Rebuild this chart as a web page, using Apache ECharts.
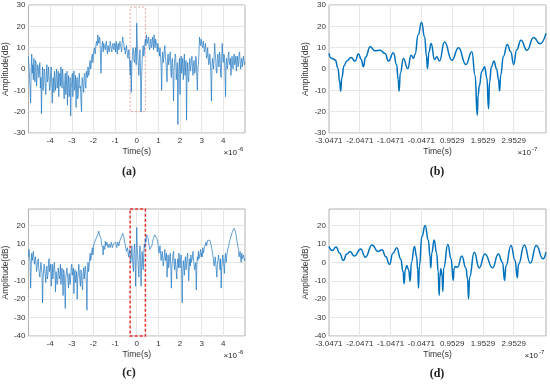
<!DOCTYPE html>
<html><head><meta charset="utf-8">
<script src="https://cdn.jsdelivr.net/npm/echarts@6/dist/echarts.min.js"></script>
<style>html,body{margin:0;padding:0;background:#fff}#c{width:550px;height:385px}</style>
</head><body><div id="c"></div>
<script>
// ---- data ----
const wideStart = -5, wideStep = 0.025; // time samples (x1e-6 s)
const aValues = [
 6,1,-4,-9,-16,0,7,-2,2,-5,5,-1,-6,4,3,-8,-3,2,1,-4,
 -2,3,-9,-4,-21,-6,1,-10,-7,0,-1,-8,-12,-3,2,-6,-5,1,-3,-10,
 -8,-2,1,-7,-16,-5,-4,-11,-1,-6,-10,-3,0,-9,-6,-1,-13,-4,-2,-8,
 1,-5,-9,0,-4,-10,-14,-6,-2,-12,-8,-1,-17,-7,-3,-13,-11,-4,-22,-9,
 -6,-2,-13,-5,-1,-10,-9,-3,-18,-7,-4,-14,-12,-5,-2,-9,-8,-15,-20,-4,
 -5,-9,-11,-3,-2,-7,-9,-1,-3,-4,1,-3,-2,3,4,0,2,6,7,3,
 6,9,10,7,9,12,13,11,16,14,12,15,14,6,-2,9,11,13,8,12,
 12,10,9,12,13,9,7,11,11,8,10,13,13,9,8,11,12,10,9,12,
 11,8,13,10,7,11,12,9,9,13,11,10,8,12,15,13,12,9,10,7,
 7,11,9,6,5,9,8,2,-3,4,-11,2,6,10,9,4,3,8,10,2,
 21.5,12,6,1,-3,5,9,-2,-20,-4,4,8,11,6,8,12,14,11,16,13,
 12,14,15,10,9,13,14,10,11,15,13,9,16,12,10,14,14,11,8,12,
 12,8,6,10,10,2,-10,4,8,3,5,9,11,6,3,-1,-6,5,7,2,
 2,6,8,-1,-4,4,5,-3,-15,0,3,7,6,-5,-2,3,-26,-4,1,5,
 -12,0,6,-2,2,5,-5,1,7,-3,-1,4,-24,-2,3,-4,-6,2,5,-1,
 1,4,6,0,-3,3,4,-2,-1,6,5,-3,-10,1,2,8,15,12,11,14,
 14,11,10,13,13,8,9,12,12,5,6,10,10,2,3,7,4,-3,-15,1,
 5,2,0,6,12,7,4,-1,-2,5,7,2,1,8,6,-3,-4,6,12,5,
 3,7,6,-2,-13,2,5,0,1,6,8,3,2,5,-3,1,6,2,0,5,
 7,2,3,6,-1,4,6,1,2,7,8,3,0,4,5,1,1,6,4,2,3
];
const cValues = [
 3,7,6,0,-14,-3,5,1,1,6,6,-1,-2,3,4,-5,-6,0,2,-3,
 -3,-8,-9,0,1,-6,-22,-9,-4,-1,0,-7,-11,-4,-2,-9,-7,-1,2,-5,
 -5,-1,-13,-6,-1,-9,-8,-2,0,-7,-16,-5,-4,-12,-10,-3,-2,-9,-7,-1,
 -12,-6,-3,-10,-18,-4,-6,-13,-25,-8,-9,-3,-2,-10,-14,-6,-5,-12,-11,-3,
 -1,-7,-8,-3,-17,-6,-4,-11,-12,-5,-20,-9,-6,-1,-2,-10,-13,-4,-7,-12,
 -15,-6,-3,-9,-10,-2,-5,-12,-26,-4,0,-5,-2,2,5,1,3,6,8,4,
 7,10,11,9,10,13,14,12,15,16,17,15,16,14,13,10,11,8,4,9,
 9,7,11.5,9,8,11,10,8,7.5,10,11,8,9,11,10.5,8,8,10,11,9,
 9,11,10,8,8.5,11,11,9,9,12,12,13,14,15,15.8,15,14,12,11,9,
 8,6,5,8,7,3,4,7,6,0,3,9,8,-2,-5,6,10,2,-13,5,
 19,8,2,-3,-8,5,9,1,-13,-2,6,0,-4,5,10,8,13,11,15,14,
 14,13,11,9,7,8,6,8,9,11,12,13,14,15,15,14,14,13,12,11,
 10,5,6,9,8,1,2,6,5,-2,-3,4,7,1,0,5,-8,-1,4,-3,
 -2,3,5,-3,-14,-2,1,4,6,-1,-4,2,3,-5,-9,0,2,-3,5,1,
 -3,1,4,-6,-22,-5,1,-3,-7,0,3,-4,-2,3,5,-1,-10,-3,2,-2,
 4,0,-1,3,6,1,2,-4,-5,0,-15,-2,3,1,6,2,1,5,7,3,
 5,3,8,5,6,8,9,7,11,9,10,12,12,13,13,12,12,10,9,7,
 6,3,2,-2,-3,3,4,-4,-8,-1,1,4,5,-1,-4,2,-14,-3,0,4,
 3,-2,-6,2,5,0,1,5,7,6,9,11,12,13,14,15,16,17,17.5,18,
 18.5,18,17,16,14,12,10,9,7,3,4,6,2,0,5,2,1,4,3,1,2
];
const bTimes = [-3.047,-2.98,-2.92,-2.84,-2.76,-2.70,-2.668,-2.63,-2.56,-2.47,-2.33,-2.20,-2.09,-2.00,-1.93,-1.86,-1.71,-1.55,-1.39,-1.225,-1.117,-0.954,-0.85,-0.80,-0.77,-0.73,-0.63,-0.488,-0.38,-0.30,-0.25,-0.15,-0.04,0.06,0.12,0.152,0.20,0.272,0.38,0.456,0.543,0.706,0.944,1.161,1.40,1.595,1.70,1.769,1.80,1.834,1.92,2.007,2.08,2.137,2.17,2.23,2.311,2.40,2.46,2.495,2.53,2.62,2.745,2.86,2.951,3.05,3.19,3.385,3.601,3.808,4.003];
const bValues = [7.3,5.2,4.8,4.2,0.5,-6,-10.4,-4,1.5,3.8,5.4,3.7,7.0,4.5,1.0,5.5,10.4,8.5,8.8,7.3,3.7,7.6,2,-5,-10.4,-2,4.9,0.2,6.5,5.0,7,16,21.9,15,6,0.2,8,12,4.5,5.7,3.8,12.6,4.1,10,2.1,8.1,-3,-21.7,-12,-8,-1,1.0,-4,-18.6,-6,1,3.7,0,-5,-10.3,-3,6,11.5,8,2.1,9,13.5,8.8,14.8,11.8,16.7];
const dTimes = [-3.047,-2.939,-2.819,-2.70,-2.581,-2.47,-2.364,-2.223,-2.017,-1.865,-1.648,-1.453,-1.323,-1.20,-1.084,-0.97,-0.845,-0.72,-0.64,-0.607,-0.57,-0.520,-0.46,-0.411,-0.37,-0.271,-0.20,-0.165,-0.140,-0.11,-0.03,0.077,0.18,0.235,0.261,0.29,0.370,0.45,0.50,0.532,0.555,0.587,0.625,0.652,0.68,0.814,0.92,0.988,1.02,1.064,1.129,1.270,1.40,1.455,1.487,1.52,1.671,1.834,2.018,2.268,2.452,2.59,2.658,2.70,2.864,3.00,3.070,3.11,3.298,3.493,3.688,3.905,4.003];
const dValues = [8.6,6.4,8.3,5,1.0,4.5,5.9,3.4,7.3,2.8,9.5,5.9,6.8,3,-1.1,5,7.9,2,-5,-11.6,-4,-1.7,-4,-10.2,0,8.6,3,-4,-14,-2,14,20,12,3,-3,5,12.2,5,-5,-18,-8,-3.5,-7,-15.8,-3,9.7,2,-9.8,-3,-2.2,-2.6,3.4,-3,-9,-19.8,-8,5.5,-3,4.6,-3,4.6,0,-9.8,-2,9.2,1,-8.4,-1,9.5,-0.4,9.2,1.9,5.5];
const wideTicks = [-4,-3,-2,-1,0,1,2,3,4];
const zoomTicks = [-3.0471,-2.0471,-1.0471,-0.0471,0.9529,1.9529,2.9529];
const yTicksTop = [-30,-20,-10,0,10,20,30];
const yTicksBottom = [-40,-30,-20,-10,0,10,20];
const boxA = [-0.3047, 0.4, -20, 29];
const boxC = [-0.3047, 0.4, -40, 29];

// ---- build ----
const wide = vals => vals.map((v,i)=>[wideStart + i*wideStep, v]);
const pairs = (t,v) => t.map((x,i)=>[x, v[i]]);
const FONT = 'Liberation Sans';
const txtCol = '#333';
const gridCol = '#e6e6e6';

const grids = [
 {left:27, top:5, width:218, height:128},
 {left:329, top:5, width:217, height:128},
 {left:27, top:209, width:218, height:127},
 {left:329, top:209, width:217, height:127}
].map(g=>Object.assign(g,{show:true, borderColor:'#b0b0b0', borderWidth:1, backgroundColor:'#fff'}));

function xAx(idx, min, max, ticks, dec){
 return {type:'value', gridIndex:idx, min:min, max:max,
  axisLine:{show:false},
  axisTick:{show:false, customValues:ticks},
  axisLabel:{customValues:ticks, interval:0, formatter:v=>dec?v.toFixed(4):String(v), fontSize:8, color:txtCol, margin:4, fontFamily:FONT},
  splitLine:{show:false},
  name:'Time(s)', nameLocation:'middle', nameGap:14,
  nameTextStyle:{fontSize:8.5, color:txtCol, fontFamily:FONT}};
}
function yAx(idx, min, max, ticks){
 return {type:'value', gridIndex:idx, min:min, max:max,
  axisLine:{show:false},
  axisTick:{show:false, customValues:ticks},
  axisLabel:{customValues:ticks, interval:0, fontSize:8, color:txtCol, margin:3, fontFamily:FONT},
  splitLine:{show:false},
  name:'Amplitude(dB)', nameLocation:'middle', nameGap:15,
  nameTextStyle:{fontSize:8.5, color:txtCol, fontFamily:FONT}};
}
// grid lines drawn as markLines on the tick values (through the axis scales)
function gridLines(xt, yt){
 return {silent:true, z:0, symbol:'none', label:{show:false}, emphasis:{disabled:true}, lineStyle:{color:gridCol, width:1, type:'solid'},
  data: xt.map(v=>({xAxis:v})).concat(yt.map(v=>({yAxis:v})))};
}
function boxArea(b, col, w, dash){
 return {silent:true, z:4, itemStyle:{color:'rgba(0,0,0,0)', borderColor:col, borderWidth:w, borderType:dash},
  data:[[{coord:[b[0], b[3]]},{coord:[b[1], b[2]]}]]};
}
function txt(x,y,s,font,align,base){
 return {type:'text', x:x, y:y, z:100, style:{text:s, font:font, fill:'#222', textAlign:align||'center', textVerticalAlign:base||'middle'}};
}
const gridSeries = (i, xt, yt) => ({type:'line', xAxisIndex:i, yAxisIndex:i, data:[], z:0, markLine:gridLines(xt, yt)});

const option = {
 animation:false,
 backgroundColor:'#fff',
 grid:grids,
 xAxis:[xAx(0,-5,5,wideTicks,false), xAx(1,-3.0471,4.003,zoomTicks,true), xAx(2,-5,5,wideTicks,false), xAx(3,-3.0471,4.003,zoomTicks,true)],
 yAxis:[yAx(0,-30,30,yTicksTop), yAx(1,-30,30,yTicksTop), yAx(2,-40,29,yTicksBottom), yAx(3,-40,29,yTicksBottom)],
 series:[
  gridSeries(0, wideTicks, yTicksTop),
  gridSeries(1, zoomTicks, yTicksTop),
  gridSeries(2, wideTicks, yTicksBottom),
  gridSeries(3, zoomTicks, yTicksBottom),
  {type:'line', xAxisIndex:0, yAxisIndex:0, z:10, data:wide(aValues), showSymbol:false, lineStyle:{width:0.7, color:'#1f77c0'},
   markArea:boxArea(boxA,'#f08a8a',0.8,[2,2])},
  {type:'line', xAxisIndex:1, yAxisIndex:1, z:10, data:pairs(bTimes,bValues), showSymbol:false, smooth:0.5, smoothMonotone:'x', lineStyle:{width:1.5, color:'#0072BD'}},
  {type:'line', xAxisIndex:2, yAxisIndex:2, z:10, data:wide(cValues), showSymbol:false, lineStyle:{width:0.7, color:'#1f77c0'},
   markArea:boxArea(boxC,'#e8302a',1.5,[3,2])},
  {type:'line', xAxisIndex:3, yAxisIndex:3, z:10, data:pairs(dTimes,dValues), showSymbol:false, smooth:0.5, smoothMonotone:'x', lineStyle:{width:1.5, color:'#0072BD'}}
 ],
 graphic:[
  txt(129,172,'(a)','bold 12px "Liberation Serif"'),
  txt(437,172,'(b)','bold 12px "Liberation Serif"'),
  txt(129,373,'(c)','bold 12px "Liberation Serif"'),
  txt(437,374,'(d)','bold 12px "Liberation Serif"'),
  txt(237,153,'×10','8px "Liberation Sans"','right'),
  txt(238,149,'-6','6px "Liberation Sans"','left'),
  txt(531,153,'×10','8px "Liberation Sans"','right'),
  txt(532,149,'-7','6px "Liberation Sans"','left'),
  txt(237,356,'×10','8px "Liberation Sans"','right'),
  txt(238,352,'-6','6px "Liberation Sans"','left'),
  txt(538,356,'×10','8px "Liberation Sans"','right'),
  txt(539,352,'-7','6px "Liberation Sans"','left')
 ]
};
const chart = echarts.init(document.getElementById('c'), null, {renderer:'canvas'});
chart.setOption(option);
</script></body></html>
